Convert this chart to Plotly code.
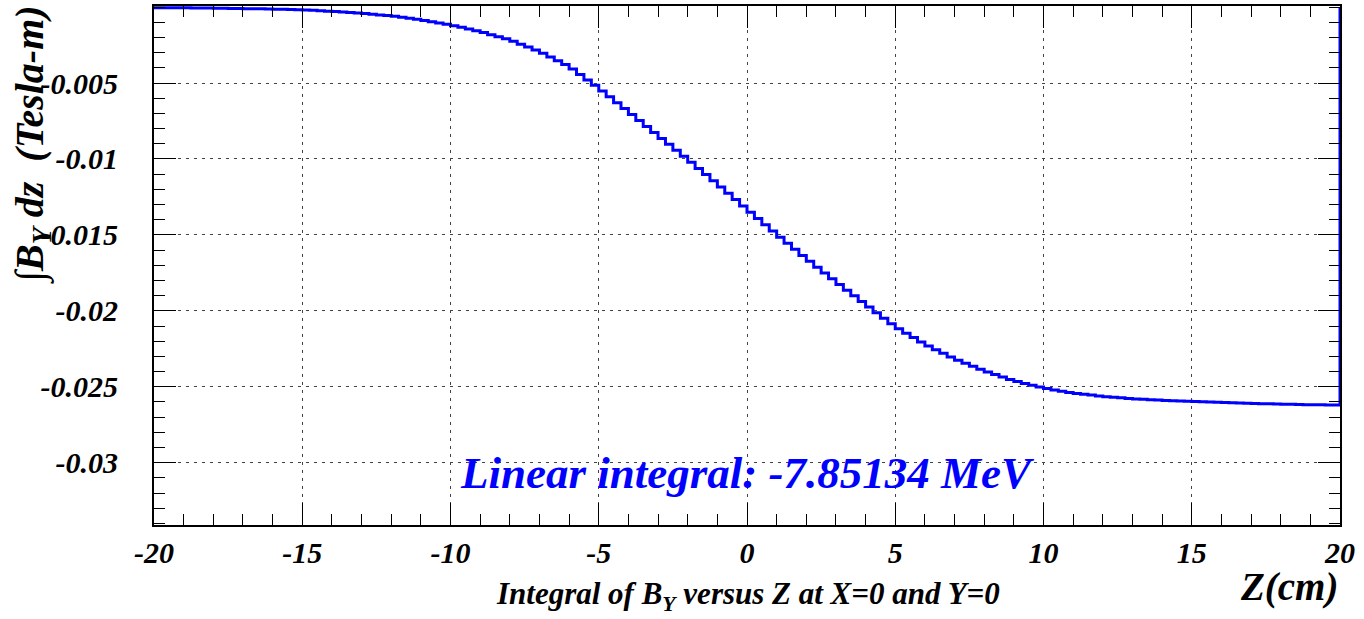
import numpy as np
import plotly.graph_objects as go

# Histogram: integral of B_Y (Tesla-m), 160 bins of 0.25 cm from Z=-20 to Z=20
z_min = -20.0
z_max = 20.0
by_integral = [
    -0.000041, -0.000044, -0.000046, -0.000049, -0.000053, -0.000058, -0.000063, -0.000068,
    -0.000074, -0.000081, -0.000089, -0.000096, -0.000104, -0.000111, -0.000119, -0.000126,
    -0.000136, -0.000149, -0.000161, -0.000174, -0.000193, -0.000218, -0.000243, -0.000268,
    -0.000296, -0.000329, -0.000361, -0.000394, -0.000431, -0.000474, -0.000516, -0.000559,
    -0.000613, -0.000678, -0.000743, -0.000808, -0.000881, -0.000964, -0.001046, -0.001129,
    -0.001225, -0.001335, -0.001445, -0.001555, -0.001679, -0.001816, -0.001954, -0.002091,
    -0.002255, -0.002445, -0.002635, -0.002825, -0.003043, -0.003288, -0.003533, -0.003778,
    -0.004079, -0.004436, -0.004794, -0.005151, -0.005523, -0.005908, -0.006293, -0.006678,
    -0.007068, -0.007463, -0.007858, -0.008253, -0.008646, -0.009039, -0.009431, -0.009824,
    -0.010221, -0.010624, -0.011026, -0.011429, -0.011839, -0.012256, -0.012674, -0.013091,
    -0.013506, -0.013919, -0.014331, -0.014744, -0.015150, -0.015550, -0.015950, -0.016350,
    -0.016741, -0.017124, -0.017506, -0.017889, -0.018266, -0.018639, -0.019011, -0.019384,
    -0.019753, -0.020118, -0.020483, -0.020848, -0.021176, -0.021469, -0.021761, -0.022054,
    -0.022319, -0.022556, -0.022794, -0.023031, -0.023250, -0.023450, -0.023650, -0.023850,
    -0.024031, -0.024194, -0.024356, -0.024519, -0.024660, -0.024780, -0.024900, -0.025020,
    -0.025121, -0.025204, -0.025286, -0.025369, -0.025438, -0.025493, -0.025548, -0.025603,
    -0.025650, -0.025690, -0.025730, -0.025770, -0.025803, -0.025828, -0.025853, -0.025878,
    -0.025899, -0.025916, -0.025934, -0.025951, -0.025969, -0.025986, -0.026004, -0.026021,
    -0.026038, -0.026053, -0.026068, -0.026083, -0.026096, -0.026109, -0.026121, -0.026134,
    -0.026145, -0.026155, -0.026165, -0.026175, -0.026183, -0.026188, -0.026193, -0.026198,
]

x_tickvals = [-20, -15, -10, -5, 0, 5, 10, 15, 20]
x_ticktext = ["-20", "-15", "-10", "-5", "0", "5", "10", "15", "20"]
y_tickvals = [-0.005, -0.01, -0.015, -0.02, -0.025, -0.03]
y_ticktext = ["-0.005", "-0.01", "-0.015", "-0.02", "-0.025", "-0.03"]
y_range = [-0.0341, 0.00007]

annotation_text = "Linear integral: -7.85134 MeV"
x_title = "Z(cm)"
plot_title = "Integral of B<sub>Y</sub> versus Z at X=0 and Y=0"
y_title = "\u222bB<sub>Y</sub> dz  (Tesla-m)"

nbins = len(by_integral)
edges = np.linspace(z_min, z_max, nbins + 1)
xs = [z_min] + list(edges) + [z_max]
ys = [0.0] + by_integral + [by_integral[-1], 0.0]

FONT = "'Liberation Serif', 'Times New Roman', Times, serif"
W, H = 1364, 619
ML, MR, MT, MB = 154, 24, 6, 94

fig = go.Figure()
fig.add_trace(go.Scatter(
    x=xs, y=ys, mode="lines", line=dict(color="#0000ff", width=3, shape="hv"),
    hoverinfo="skip", showlegend=False, cliponaxis=True,
))

axis_common = dict(
    showline=True, linecolor="black", linewidth=2, mirror="allticks",
    ticks="inside", ticklen=22, tickwidth=1, tickcolor="black",
    showgrid=True, gridcolor="#444444", griddash="3px,5px", gridwidth=1,
    zeroline=False, automargin=False,
    tickfont=dict(family=FONT, size=30, color="black", weight="bold", style="italic"),
)

fig.update_xaxes(
    range=[z_min, z_max], tickmode="array", tickvals=x_tickvals, ticktext=x_ticktext,
    minor=dict(dtick=1, tick0=0, ticklen=11, tickcolor="black", tickwidth=1, ticks="inside", showgrid=False),
    ticklabelstandoff=0,
    **axis_common,
)
fig.update_yaxes(
    range=y_range, tickmode="array", tickvals=y_tickvals, ticktext=y_ticktext,
    minor=dict(dtick=0.001, tick0=0, ticklen=11, tickcolor="black", tickwidth=1, ticks="inside", showgrid=False),
    ticklabelstandoff=28,
    **axis_common,
)

pw = W - ML - MR
ph = H - MT - MB

fig.add_annotation(
    text=annotation_text, xref="x", yref="y", x=0, y=-0.0307,
    showarrow=False, xanchor="center", yanchor="middle",
    font=dict(family=FONT, size=45, color="#0000ff", weight="bold", style="italic"),
)
fig.add_annotation(
    text=x_title, xref="paper", yref="paper", x=1, y=0, yshift=-(587 - 525),
    showarrow=False, xanchor="right", yanchor="middle",
    font=dict(family=FONT, size=39, color="black", weight="bold", style="italic"),
)
fig.add_annotation(
    text=plot_title, xref="paper", yref="paper", x=(748 - ML) / pw, y=0, yshift=-(596 - 525),
    showarrow=False, xanchor="center", yanchor="middle",
    font=dict(family=FONT, size=31, color="black", weight="bold", style="italic"),
)
fig.add_annotation(
    text=y_title, xref="paper", yref="paper", x=0, xshift=-(ML - 32), y=1 - (145 - MT) / ph,
    showarrow=False, xanchor="center", yanchor="middle", textangle=-90,
    font=dict(family=FONT, size=40, color="black", weight="bold", style="italic"),
)

fig.update_layout(
    width=W, height=H, margin=dict(l=ML, r=MR, t=MT, b=MB),
    paper_bgcolor="white", plot_bgcolor="white",
)

fig.write_html(
    "out.html",
    config={"displayModeBar": False, "staticPlot": True},
    post_script="document.body.style.margin='0';document.body.style.overflow='hidden';",
)
